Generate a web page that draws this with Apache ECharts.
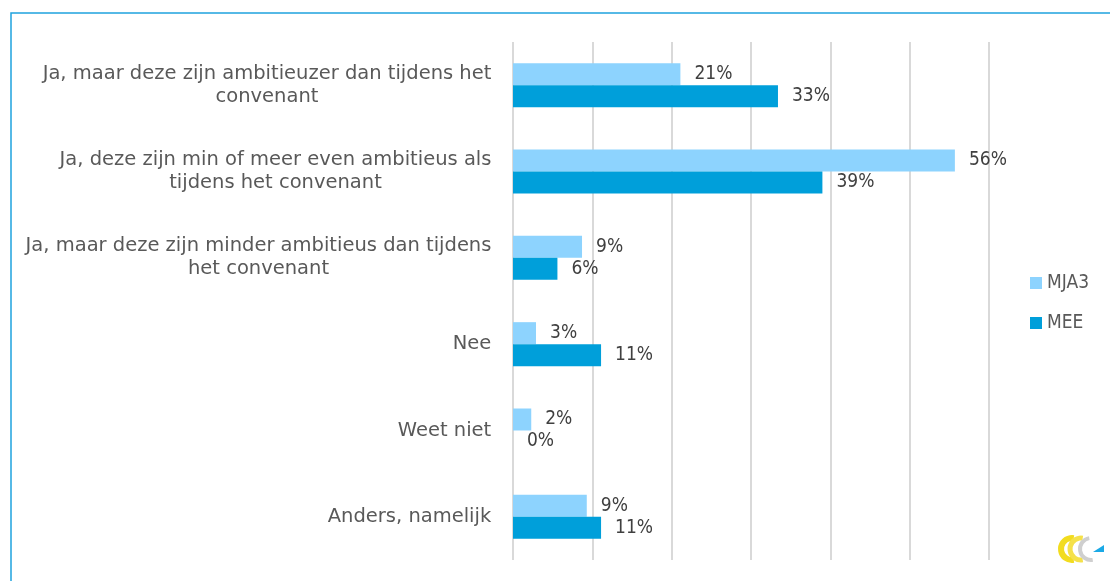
<!DOCTYPE html>
<html><head><meta charset="utf-8">
<script src="https://cdn.jsdelivr.net/npm/echarts@6/dist/echarts.min.js"></script>
<style>html,body{margin:0;padding:0;background:#fff}#c{width:1110px;height:581px}</style>
</head><body><div id="c"></div>
<script>
const categories = [
  "Ja, maar deze zijn ambitieuzer dan tijdens het\nconvenant",
  "Ja, deze zijn min of meer even ambitieus als\ntijdens het convenant",
  "Ja, maar deze zijn minder ambitieus dan tijdens\nhet convenant",
  "Nee",
  "Weet niet",
  "Anders, namelijk"
];
const seriesNames = ["MJA3", "MEE"];
const mja3 = [0.211, 0.557, 0.087, 0.029, 0.023, 0.093];
const mee = [0.334, 0.39, 0.056, 0.111, 0.00, 0.111];

const catFont = 'DejaVu Sans';
const catSize = 19.5;
const numFont = 'DejaVu Sans Condensed, DejaVu Sans';

// measure widest line of each category label so lines can be centred in the block
const cv = document.createElement('canvas').getContext('2d');
cv.font = catSize + 'px ' + catFont;
const rich = {};
categories.forEach((c, i) => {
  const w = Math.max(...c.split('\n').map(l => cv.measureText(l).width));
  rich['c' + i] = { width: Math.ceil(w) + 1, align: 'center', color: '#595959',
    fontSize: catSize, fontFamily: catFont, lineHeight: 23 };
});

const chart = echarts.init(document.getElementById('c'));
const lbl = {
  show: true, position: 'right', distance: 14,
  color: '#404040', fontSize: 19, fontFamily: numFont,
  formatter: p => Math.round(p.value * 100) + '%'
};
chart.setOption({
  animation: false,
  grid: { left: 513, right: 121, top: 42, bottom: 21, containLabel: false },
  legend: {
    orient: 'vertical', left: 1025, top: 268, itemWidth: 12, itemHeight: 12, itemGap: 20,
    icon: 'rect', textStyle: { color: '#595959', fontSize: 19, lineHeight: 20, fontFamily: numFont },
    data: seriesNames
  },
  xAxis: {
    type: 'value', min: 0, max: 0.6, interval: 0.1,
    axisLabel: { show: false }, axisLine: { show: false }, axisTick: { show: false },
    splitLine: { show: true, lineStyle: { color: '#d9d9d9', width: 2 } }
  },
  yAxis: {
    type: 'category', inverse: true, data: categories,
    axisLine: { show: false }, axisTick: { show: false },
    axisLabel: { margin: 21, align: 'right', rich: rich,
      formatter: (v, i) => v.split('\n').map(l => '{c' + i + '|' + l + '}').join('\n') }
  },
  series: [
    { name: seriesNames[0], type: 'bar', data: mja3, barWidth: 22, barGap: '0%',
      itemStyle: { color: '#8dd3fe' }, label: lbl },
    { name: seriesNames[1], type: 'bar', data: mee, barWidth: 22,
      itemStyle: { color: '#009fda' }, label: lbl }
  ],
  graphic: [
    { type: 'rect', shape: { x: 11, y: 13, width: 1120, height: 600 }, silent: true,
      style: { fill: 'none', stroke: '#1fa3de', lineWidth: 1.5 } },
    { type: 'group', left: 1058, top: 535, children: [
      { type: 'arc', shape: { cx: 12, cy: 16, r: 11, startAngle: Math.PI*0.45, endAngle: Math.PI*1.55 },
        style: { stroke: '#f2dc1f', lineWidth: 6, fill: 'none' } },
      { type: 'arc', shape: { cx: 21, cy: 16, r: 11, startAngle: Math.PI*0.45, endAngle: Math.PI*1.55 },
        style: { stroke: '#f5e14a', lineWidth: 5, fill: 'none' } },
      { type: 'arc', shape: { cx: 31, cy: 16, r: 11, startAngle: Math.PI*0.45, endAngle: Math.PI*1.45 },
        style: { stroke: '#cfcfcf', lineWidth: 4, fill: 'none' } },
      { type: 'polygon', shape: { points: [[33, 19], [44, 12], [44, 19]] }, style: { fill: '#1aa9e6' } }
    ]}
  ]
});
</script></body></html>
